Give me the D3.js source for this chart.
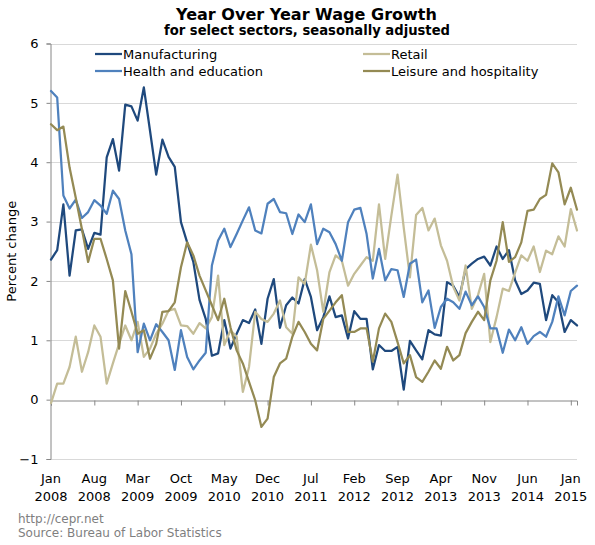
<!DOCTYPE html>
<html>
<head>
<meta charset="utf-8">
<script src="https://cdn.jsdelivr.net/npm/d3@7"></script>
<style>
  html, body { margin: 0; padding: 0; background: #fff; }
  svg { display: block; font-family: "DejaVu Sans", Verdana, sans-serif; }
</style>
</head>
<body>
<svg id="chart" width="595" height="545"></svg>
<script>
(function () {
// ---- Data ----
const nMonths = 86; // Jan 2008 .. Feb 2015

const manufacturing = [2.36,2.52,3.29,2.09,2.85,2.87,2.54,2.81,2.78,4.08,4.39,3.86,4.97,4.94,4.70,5.26,4.53,3.79,4.38,4.09,3.92,2.99,2.65,2.32,1.68,1.36,0.74,0.78,1.34,0.86,1.11,1.34,1.29,1.52,0.94,1.70,2.03,1.21,1.59,1.72,1.62,2.03,1.73,1.17,1.39,1.74,1.39,1.42,1.03,1.49,1.36,1.36,0.51,0.92,0.82,0.82,0.89,0.17,0.99,0.83,0.68,1.17,1.10,1.08,1.98,1.92,1.73,2.20,2.29,2.37,2.41,2.26,2.58,2.37,2.52,2.01,1.78,1.84,1.97,1.95,1.34,1.76,1.64,1.14,1.34,1.25];

const healthEducation = [5.20,5.09,3.44,3.22,3.37,3.06,3.16,3.36,3.27,3.13,3.52,3.38,2.85,2.45,0.80,1.28,1.00,1.27,1.14,1.00,0.50,1.17,0.72,0.51,0.66,0.79,2.26,2.68,2.88,2.57,2.79,3.02,3.24,2.85,2.80,3.30,3.38,3.16,3.14,2.79,3.12,2.99,3.29,2.62,2.88,2.82,2.62,2.34,2.99,3.20,3.23,2.79,2.04,2.54,2.01,2.20,2.18,1.73,2.29,2.36,1.64,1.84,1.21,1.56,1.70,1.64,1.53,1.82,1.59,1.74,1.56,1.20,1.20,0.79,1.18,1.00,1.22,0.94,1.07,1.14,1.06,1.31,1.74,1.42,1.83,1.92];

const retail = [-0.06,0.27,0.27,0.55,1.06,0.47,0.80,1.25,1.06,0.27,0.61,0.94,1.25,1.00,1.31,0.72,0.86,1.11,1.28,1.50,1.53,1.25,1.24,1.11,1.29,1.20,1.39,2.09,0.92,1.17,1.06,0.13,0.55,1.48,1.36,1.31,1.45,1.67,1.22,1.11,2.06,1.95,2.61,2.18,1.48,2.15,2.43,2.34,1.92,2.12,2.26,2.40,2.34,3.29,2.37,3.10,3.79,2.90,2.06,3.11,3.23,2.85,3.05,2.60,2.34,1.90,1.67,2.26,1.53,1.76,2.12,0.97,1.39,1.87,1.83,2.14,2.43,2.34,2.58,2.15,2.51,2.45,2.75,2.58,3.21,2.85];

const leisureHospitality = [4.64,4.54,4.60,3.91,3.40,2.87,2.32,2.71,2.71,2.37,2.01,0.86,1.83,1.48,1.11,1.17,0.69,0.94,1.48,1.49,1.64,2.23,2.65,2.43,2.09,1.84,1.59,1.34,1.70,1.22,0.83,0.61,0.30,-0.01,-0.46,-0.32,0.38,0.61,0.69,1.06,1.31,1.14,0.94,0.83,1.36,1.50,1.64,1.76,1.14,1.14,1.20,1.20,0.64,1.20,1.45,1.31,0.97,0.61,0.75,0.38,0.30,0.47,0.66,0.52,0.89,0.66,0.75,1.12,1.31,1.48,1.34,2.01,2.34,2.99,2.32,2.40,2.65,3.18,3.20,3.38,3.45,3.98,3.83,3.29,3.57,3.20];

const seriesNames = ["Manufacturing", "Retail", "Health and education", "Leisure and hospitality"];
const seriesValues = [manufacturing, retail, healthEducation, leisureHospitality];
const seriesColors = ["#1F497D", "#C4BD97", "#4F81BD", "#948A54"];

const xTickIndex = [0,7,14,21,28,35,42,49,56,63,70,77,84];
const xTickMonth = ["Jan","Aug","Mar","Oct","May","Dec","Jul","Feb","Sep","Apr","Nov","Jun","Jan"];
const xTickYear  = ["2008","2008","2009","2009","2010","2010","2011","2012","2012","2013","2013","2014","2015"];
const yTicks = [-1,0,1,2,3,4,5,6];

const titleText = "Year Over Year Wage Growth";
const subtitleText = "for select sectors, seasonally adjusted";
const yAxisTitle = "Percent change";
const footer1 = "http://cepr.net";
const footer2 = "Source: Bureau of Labor Statistics";

// ---- Chart ----
const svg = d3.select("#chart");
const pL = 51, pR = 577, pT = 43.5, pB = 459;

const x = d3.scaleLinear().domain([0, nMonths - 1]).range([pL, pR]);
const y = d3.scaleLinear().domain([-1, 6]).range([pB, pT]);

function fitText(sel, target) {
  const w = sel.node().getComputedTextLength();
  const fs = parseFloat(sel.attr("font-size"));
  if (w > 0) sel.attr("font-size", (fs * target / w).toFixed(2));
}

// Title
const t1 = svg.append("text").attr("x", 306.5).attr("y", 19.5).attr("text-anchor", "middle")
  .attr("font-size", 16).attr("font-weight", "bold").attr("fill", "#000").text(titleText);
fitText(t1, 261);
const t2 = svg.append("text").attr("x", 307).attr("y", 34.5).attr("text-anchor", "middle")
  .attr("font-size", 13).attr("font-weight", "bold").attr("fill", "#000").text(subtitleText);
fitText(t2, 286);

// Gridlines
svg.append("g").selectAll("line").data(yTicks.filter(d => d !== 0)).join("line")
  .attr("x1", pL).attr("x2", pR)
  .attr("y1", d => Math.round(y(d)) + 0.5).attr("y2", d => Math.round(y(d)) + 0.5)
  .attr("stroke", "#D9D9D9").attr("stroke-width", 1);

// Y axis
const yAxis = d3.axisLeft(y).tickValues(yTicks).tickSize(4).tickPadding(8).tickFormat(d3.format("d"));
const gy = svg.append("g").attr("transform", `translate(${pL - 0.5},0)`).call(yAxis);
gy.select(".domain").attr("stroke", "#868686");
gy.selectAll(".tick line").attr("stroke", "#868686");
gy.selectAll(".tick text").attr("font-size", 13).attr("fill", "#000")
  .attr("font-family", "'DejaVu Sans', Verdana, sans-serif");

// X axis at zero
const xAxis = d3.axisBottom(x).tickValues(xTickIndex).tickSize(5).tickFormat("");
const gx = svg.append("g").attr("transform", `translate(0,${Math.round(y(0)) + 0.5})`).call(xAxis);
gx.select(".domain").attr("stroke", "#868686");
gx.selectAll(".tick line").attr("stroke", "#868686");

// X labels at bottom
const lab = svg.append("g").attr("font-size", 13).attr("fill", "#000").attr("text-anchor", "middle");
lab.selectAll("text.m").data(xTickIndex).join("text").attr("class", "m")
  .attr("x", d => x(d)).attr("y", 483).text((d, i) => xTickMonth[i]);
lab.selectAll("text.yr").data(xTickIndex).join("text").attr("class", "yr")
  .attr("x", d => x(d)).attr("y", 501).text((d, i) => xTickYear[i]);

// Y axis title
svg.append("text").attr("transform", `translate(16,${(pT + pB) / 2}) rotate(-90)`)
  .attr("text-anchor", "middle").attr("font-size", 13).attr("fill", "#000").text(yAxisTitle);

// Lines
const line = d3.line().x((d, i) => x(i)).y(d => y(d));
svg.append("g").selectAll("path").data(seriesValues).join("path")
  .attr("d", d => line(d)).attr("fill", "none")
  .attr("stroke", (d, i) => seriesColors[i]).attr("stroke-width", 2.25)
  .attr("stroke-linejoin", "round").attr("stroke-linecap", "round");

// Legend
const legendPos = [[95, 54], [363, 54], [95, 71], [363, 71]];
const lg = svg.append("g").attr("font-size", 13);
seriesNames.forEach((name, i) => {
  const [lx, ly] = legendPos[i];
  lg.append("line").attr("x1", lx).attr("x2", lx + 27).attr("y1", ly).attr("y2", ly)
    .attr("stroke", seriesColors[i]).attr("stroke-width", 2.25);
  lg.append("text").attr("x", lx + 28).attr("y", ly + 4.5).attr("fill", "#000").text(name);
});

// Footer
const ft = svg.append("g").attr("font-size", 12).attr("fill", "#7F7F7F");
ft.append("text").attr("x", 18).attr("y", 523).text(footer1);
ft.append("text").attr("x", 18).attr("y", 537).text(footer2);
})();
</script>
</body>
</html>
